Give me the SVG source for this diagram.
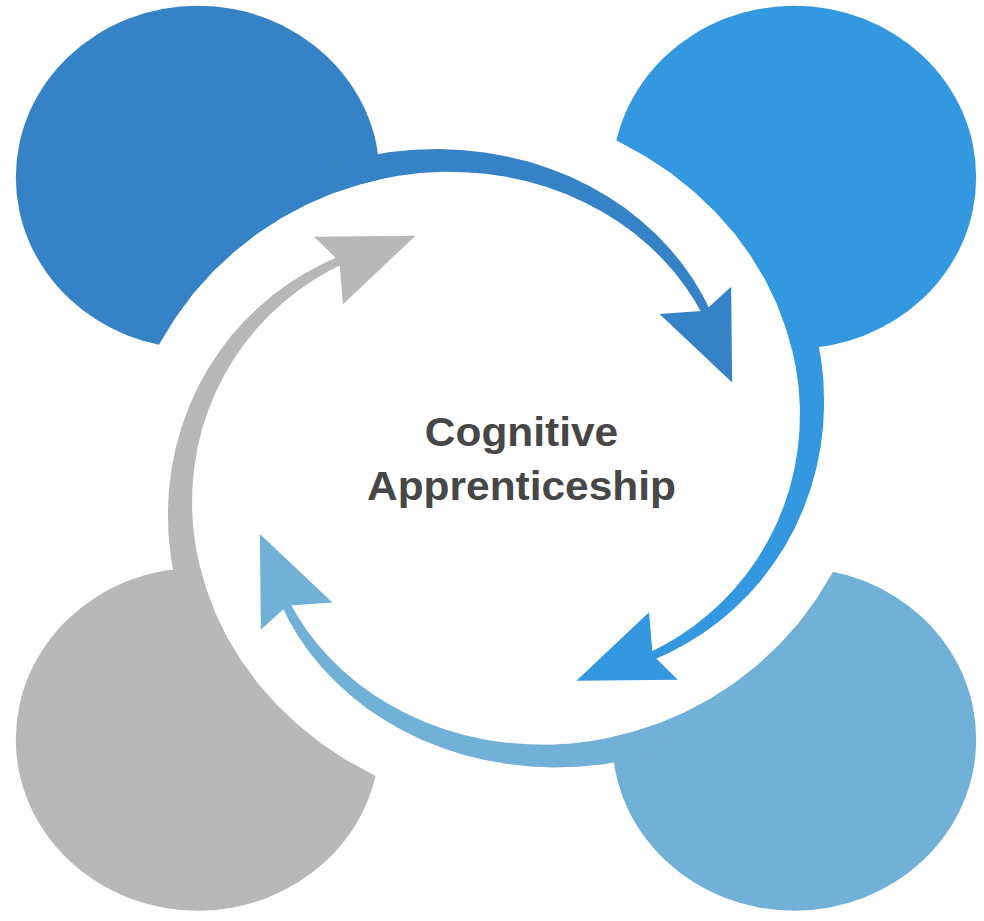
<svg xmlns="http://www.w3.org/2000/svg" width="984" height="921" viewBox="0 0 984 921">
<style>
.c1{fill:#3583C6}
.c2{fill:#3398E0}
.c3{fill:#72B1D7}
.c4{fill:#B8B8B8}
.w{fill:#FFFFFF}
.t{font-family:"Liberation Sans",Arial,Helvetica,sans-serif;font-weight:bold;font-size:40px;fill:#474747;text-anchor:middle}
</style>
<defs>
<path id="wedge" d="M0,0 L-339.5,-59.8 L-329.2,-88.2 L-316.7,-115.3 L-301.9,-140.8 L-285.2,-164.65 L-266.6,-186.7 L-246.3,-206.7 L-224.7,-224.7 L-201.8,-240.4 L-177.8,-254.0 L-153.1,-265.2 L-127.8,-274.0 L-102.1,-280.5 L-76.3,-284.6 L-50.5,-286.4 Z"/>
<g id="arrow">
<path d="M-167.0,-289.2 L-144.7,-296.6 L-122.1,-302.3 L-99.5,-306.3 L-76.9,-308.6 L-54.5,-309.2 L-32.4,-308.3 L-10.7,-305.8 L10.5,-301.8 L31.1,-296.4 L51.0,-289.5 L70.2,-281.4 L88.4,-272.0 L105.6,-261.5 L121.9,-249.9 L137.0,-237.3 L151.0,-223.8 L163.8,-209.6 L175.3,-194.7 L185.6,-179.2 L194.6,-163.3 L202.3,-147.0 L205.6,-138.7 L199.0,-134.2 L195.4,-142.0 L187.4,-157.2 L178.2,-172.1 L167.8,-186.4 L156.3,-200.0 L143.7,-213.0 L130.0,-225.2 L115.3,-236.5 L99.7,-246.8 L83.2,-256.0 L65.9,-264.2 L47.8,-271.2 L29.1,-277.0 L9.8,-281.4 L-9.9,-284.4 L-30.1,-286.1 L-50.5,-286.4 L-71.1,-285.2 L-91.8,-282.4 L-112.4,-278.2 L-132.9,-272.4 L-153.1,-265.2 Z"/>
<polygon points="222.5,-75.8 221.6,-171.4 196.8,-147.6 154.1,-144.2"/>
</g>
</defs>
<rect x="0" y="0" width="984" height="921" fill="#FFFFFF"/>
<g transform="translate(496,458.25) scale(1.0612,1)">
<g id="node-top-left"><circle class="c1" cx="-281" cy="-281" r="171.5"/></g>
<g id="node-top-right"><circle class="c2" cx="281" cy="-281" r="171.5"/></g>
<g id="node-bottom-right"><circle class="c3" cx="281" cy="281" r="171.5"/></g>
<g id="node-bottom-left"><circle class="c4" cx="-281" cy="281" r="171.5"/></g>
<g id="node-center">
<circle class="w" cx="0" cy="0" r="240"/>
<use href="#wedge" class="w"/>
<use href="#wedge" class="w" transform="rotate(90)"/>
<use href="#wedge" class="w" transform="rotate(180)"/>
<use href="#wedge" class="w" transform="rotate(270)"/>
</g>
<g id="connectors">
<use href="#arrow" class="c1"/>
<use href="#arrow" class="c2" transform="rotate(90)"/>
<use href="#arrow" class="c3" transform="rotate(180)"/>
<use href="#arrow" class="c4" transform="rotate(270)"/>
</g>
</g>
<g id="center-label" transform="translate(521.5,0) scale(1.0612,1)">
<text class="t" x="0" y="446">Cognitive</text>
<text class="t" x="0" y="500">Apprenticeship</text>
</g>
</svg>
